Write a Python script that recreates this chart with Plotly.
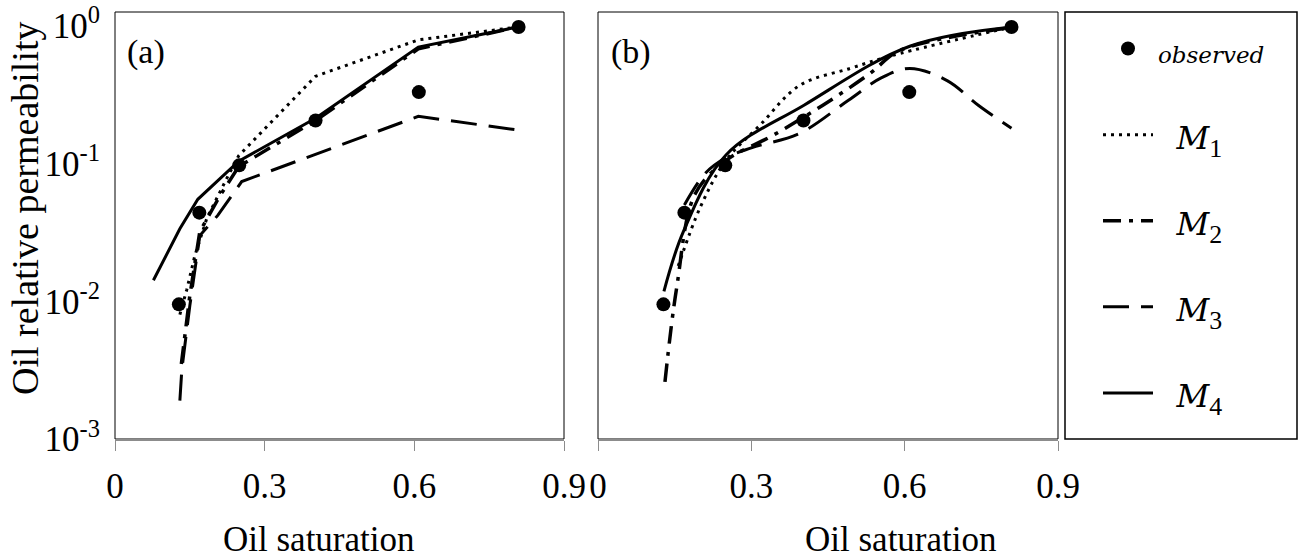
import plotly.graph_objects as go

# ---------------- data ----------------
obs_x = [0.128, 0.169, 0.249, 0.402, 0.609, 0.809]
obs_y = [0.0095, 0.044, 0.097, 0.205, 0.33, 0.98]

# panel (a)
m1a_x = [0.13, 0.144, 0.16, 0.184, 0.224, 0.248, 0.402, 0.608, 0.808]
m1a_y = [0.008, 0.0122, 0.0214, 0.04, 0.078, 0.114, 0.43, 0.79, 0.98]
m2a_x = [0.133, 0.15, 0.17, 0.21, 0.248, 0.402, 0.608, 0.808]
m2a_y = [0.0035, 0.011, 0.032, 0.058, 0.095, 0.205, 0.68, 0.98]
m3a_x = [0.13, 0.134, 0.15, 0.164, 0.17, 0.206, 0.254, 0.608, 0.808]
m3a_y = [0.0019, 0.0032, 0.0093, 0.02, 0.03, 0.042, 0.074, 0.22, 0.175]
m4a_x = [0.077, 0.13, 0.166, 0.248, 0.402, 0.608, 0.808]
m4a_y = [0.0142, 0.0336, 0.055, 0.104, 0.213, 0.70, 0.98]

# panel (b)
m1b_x = [0.157, 0.2, 0.25, 0.317, 0.395, 0.493, 0.577, 0.809]
m1b_y = [0.018, 0.048, 0.105, 0.19, 0.37, 0.49, 0.61, 0.98]
m2b_x = [0.131, 0.154, 0.19, 0.25, 0.342, 0.44, 0.532, 0.59, 0.809]
m2b_y = [0.0026, 0.0126, 0.06, 0.105, 0.16, 0.265, 0.45, 0.66, 0.97]
m3b_x = [0.169, 0.21, 0.25, 0.30, 0.395, 0.49, 0.555, 0.61, 0.683, 0.744, 0.809]
m3b_y = [0.05, 0.085, 0.11, 0.13, 0.166, 0.288, 0.42, 0.49, 0.40, 0.265, 0.18]
m4b_x = [0.129, 0.167, 0.25, 0.403, 0.61, 0.809]
m4b_y = [0.0118, 0.032, 0.115, 0.265, 0.71, 0.98]

x_ticks = [0, 0.3, 0.6, 0.9]
x_ticktext = ["0", "0.3", "0.6", "0.9"]
y_ticks = [0.001, 0.01, 0.1, 1]
y_ticktext = ["10<sup>-3</sup>", "10<sup>-2</sup>", "10<sup>-1</sup>", "10<sup>0</sup>"]

IT = "font-family:DejaVu Serif;font-style:italic"
names = ["<span style='%s;font-size:23px'>observed</span>" % IT,
         "&nbsp;&nbsp;<span style='%s;font-size:32px'>M</span><sub>1</sub>" % IT,
         "&nbsp;&nbsp;<span style='%s;font-size:32px'>M</span><sub>2</sub>" % IT,
         "&nbsp;&nbsp;<span style='%s;font-size:32px'>M</span><sub>3</sub>" % IT,
         "&nbsp;&nbsp;<span style='%s;font-size:32px'>M</span><sub>4</sub>" % IT]

FONT = "Liberation Serif"
W, H = 1301, 559

dash_m1 = "3px,5px"
dash_m2 = "18px,8px,4px,8px"
dash_m3 = "26px,12px"

fig = go.Figure()

def add_panel(xa, ya, m1, m2, m3, m4, legend, shape):
    fig.add_trace(go.Scatter(x=m1[0], y=m1[1], mode="lines", name=names[1],
                             line=dict(color="black", width=3, dash=dash_m1, shape=shape),
                             xaxis=xa, yaxis=ya, showlegend=legend, legendgroup="m1",
                             legendrank=2))
    fig.add_trace(go.Scatter(x=m2[0], y=m2[1], mode="lines", name=names[2],
                             line=dict(color="black", width=3.5, dash=dash_m2, shape=shape),
                             xaxis=xa, yaxis=ya, showlegend=legend, legendgroup="m2",
                             legendrank=3))
    fig.add_trace(go.Scatter(x=m3[0], y=m3[1], mode="lines", name=names[3],
                             line=dict(color="black", width=3, dash=dash_m3, shape=shape),
                             xaxis=xa, yaxis=ya, showlegend=legend, legendgroup="m3",
                             legendrank=4))
    fig.add_trace(go.Scatter(x=m4[0], y=m4[1], mode="lines", name=names[4],
                             line=dict(color="black", width=3, shape=shape),
                             xaxis=xa, yaxis=ya, showlegend=legend, legendgroup="m4",
                             legendrank=5))
    fig.add_trace(go.Scatter(x=obs_x, y=obs_y, mode="markers", name=names[0],
                             marker=dict(color="black", size=14),
                             xaxis=xa, yaxis=ya, showlegend=legend, legendgroup="obs",
                             legendrank=1))

add_panel("x", "y", (m1a_x, m1a_y), (m2a_x, m2a_y), (m3a_x, m3a_y), (m4a_x, m4a_y), True, "linear")
add_panel("x2", "y2", (m1b_x, m1b_y), (m2b_x, m2b_y), (m3b_x, m3b_y), (m4b_x, m4b_y), False, "spline")

ydom = [120 / H, 547 / H]
xdom_a = [115 / W, 564 / W]
xdom_b = [598 / W, 1058 / W]

xcommon = dict(range=[0, 0.9], tickvals=x_ticks, ticktext=x_ticktext, automargin=False,
               showgrid=False, zeroline=False, showline=True, linecolor="#8c8c8c",
               linewidth=2, ticks="outside", ticklen=10, tickcolor="#8c8c8c", tickwidth=1,
               tickfont=dict(family=FONT, size=35, color="black"), ticklabelstandoff=5)
ycommon = dict(type="log", range=[-3, 0.1], tickvals=y_ticks, showgrid=False, automargin=False,
               zeroline=False, showline=False, ticks="")

fig.update_layout(
    width=W, height=H, margin=dict(l=0, r=0, t=0, b=0, pad=0, autoexpand=False),
    paper_bgcolor="white", plot_bgcolor="white",
    font=dict(family=FONT, color="black"),
    xaxis=dict(domain=xdom_a, anchor="y", **xcommon),
    yaxis=dict(domain=ydom, anchor="x", ticktext=y_ticktext,
               tickfont=dict(family=FONT, size=35, color="black"),
               ticklabelstandoff=14, **ycommon),
    xaxis2=dict(domain=xdom_b, anchor="y2", **xcommon),
    yaxis2=dict(domain=ydom, anchor="x2", showticklabels=False, **ycommon),
    showlegend=True,
    legend=dict(x=1098 / W, y=1 - 18 / H, xanchor="left", yanchor="top",
                bgcolor="rgba(0,0,0,0)", borderwidth=0,
                font=dict(family=FONT, size=37, color="black"),
                tracegroupgap=35, itemwidth=50, traceorder="grouped"),
)

# panel borders and legend box
for xr, yr in (("x domain", "y domain"), ("x2 domain", "y2 domain")):
    fig.add_shape(type="rect", xref=xr, yref=yr, x0=0, x1=1, y0=0, y1=1,
                  line=dict(color="black", width=1), layer="below")
fig.add_shape(type="rect", xref="paper", yref="paper",
              x0=1065 / W, x1=1297 / W, y0=ydom[0], y1=ydom[1],
              line=dict(color="black", width=1.5))

ann = [
    dict(text="(a)", x=146 / W, y=1 - 52 / H, size=34),
    dict(text="(b)", x=631 / W, y=1 - 52 / H, size=34),
    dict(text="Oil saturation", x=319 / W, y=1 - 539 / H, size=35),
    dict(text="Oil saturation", x=901 / W, y=1 - 539 / H, size=35),
]
for a in ann:
    fig.add_annotation(text=a["text"], x=a["x"], y=a["y"], xref="paper", yref="paper",
                       showarrow=False, xanchor="center", yanchor="middle",
                       font=dict(family=FONT, size=a["size"], color="black"))
fig.add_annotation(text="Oil relative permeability", x=25 / W, y=1 - 208 / H,
                   xref="paper", yref="paper", showarrow=False, textangle=-90,
                   xanchor="center", yanchor="middle",
                   font=dict(family=FONT, size=38, color="black"))

fig.write_html("out.html")
